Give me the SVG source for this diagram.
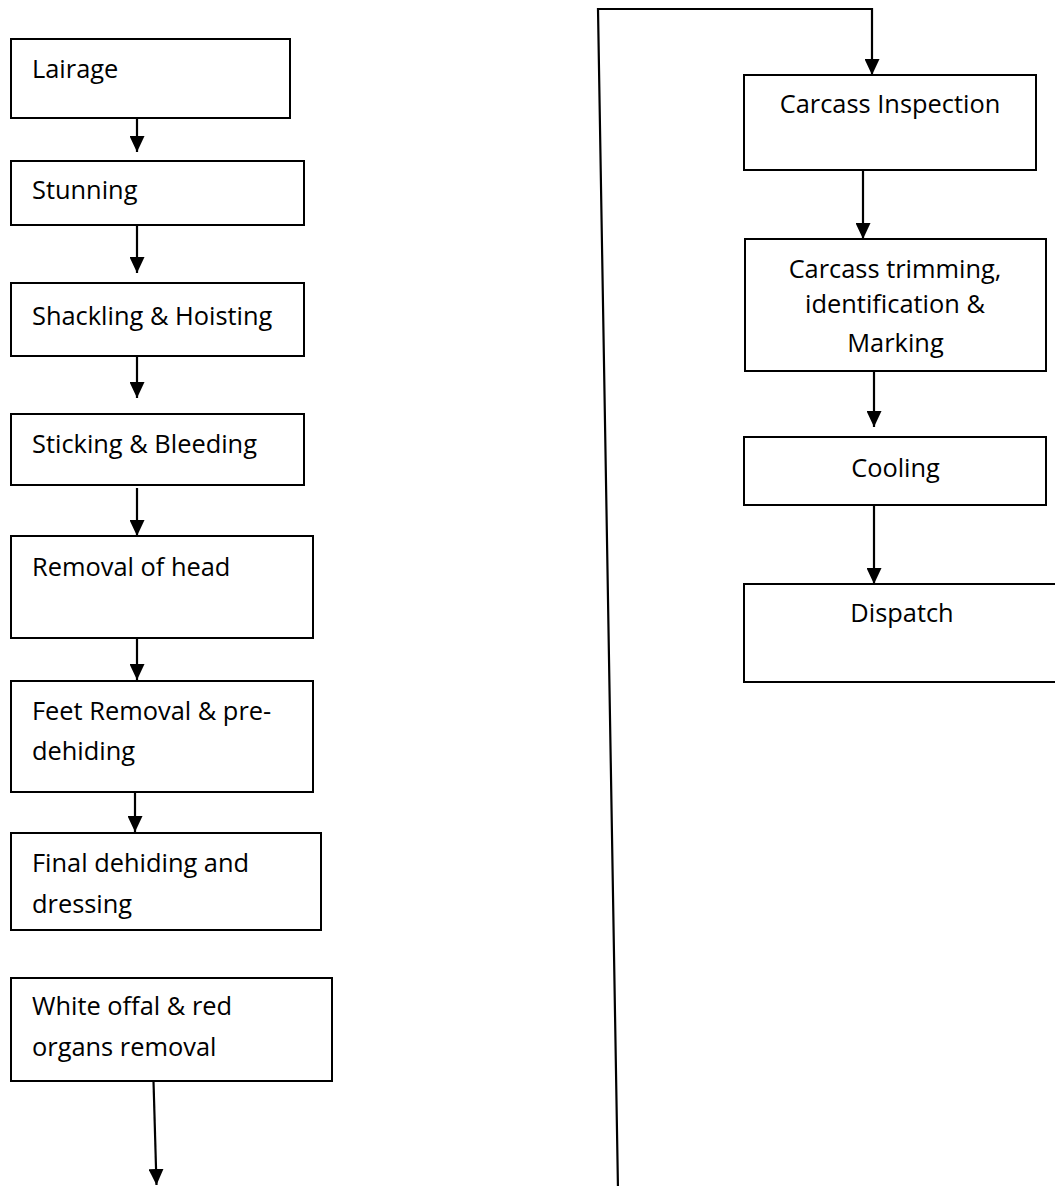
<svg xmlns="http://www.w3.org/2000/svg" width="1055" height="1186" viewBox="0 0 1055 1186">
<style>
.box{fill:#fff;stroke:#000;stroke-width:2}
.t{font-family:"Open Sans","Liberation Sans",sans-serif;font-size:25.4px;fill:#000}
.c{text-anchor:middle}
.ln{fill:none;stroke:#000;stroke-width:2.2}
</style>
<defs>
<marker id="ah" viewBox="0 0 16 15" refX="16" refY="7.5" markerWidth="16" markerHeight="15" markerUnits="userSpaceOnUse" orient="auto">
<path d="M0,0 L16,7.5 L0,15 z" fill="#000"/>
</marker>
</defs>
<rect width="1055" height="1186" fill="#fff"/>
<g id="connectors">
<line class="ln" x1="137" y1="118" x2="137" y2="152" marker-end="url(#ah)"/>
<line class="ln" x1="137" y1="225" x2="137" y2="273" marker-end="url(#ah)"/>
<line class="ln" x1="137" y1="356" x2="137" y2="398" marker-end="url(#ah)"/>
<line class="ln" x1="137" y1="488" x2="137" y2="536" marker-end="url(#ah)"/>
<line class="ln" x1="137" y1="638" x2="137" y2="680" marker-end="url(#ah)"/>
<line class="ln" x1="135" y1="792" x2="135" y2="832" marker-end="url(#ah)"/>
<line class="ln" x1="153.5" y1="1081" x2="156.5" y2="1185" marker-end="url(#ah)"/>
<polyline class="ln" points="618,1190 598,9 872,9 872,75" marker-end="url(#ah)"/>
<line class="ln" x1="863" y1="170" x2="863" y2="239" marker-end="url(#ah)"/>
<line class="ln" x1="874" y1="371" x2="874" y2="427" marker-end="url(#ah)"/>
<line class="ln" x1="874" y1="505" x2="874" y2="584" marker-end="url(#ah)"/>
</g>
<g id="n1"><rect class="box" x="11" y="39" width="279" height="79"/><text class="t" x="32" y="77.5">Lairage</text></g>
<g id="n2"><rect class="box" x="11" y="161" width="293" height="64"/><text class="t" x="32" y="199">Stunning</text></g>
<g id="n3"><rect class="box" x="11" y="283" width="293" height="73"/><text class="t" x="32" y="325">Shackling &amp; Hoisting</text></g>
<g id="n4"><rect class="box" x="11" y="414" width="293" height="71"/><text class="t" x="32" y="453">Sticking &amp; Bleeding</text></g>
<g id="n5"><rect class="box" x="11" y="536" width="302" height="102"/><text class="t" x="32" y="575.5">Removal of head</text></g>
<g id="n6"><rect class="box" x="11" y="681" width="302" height="111"/><text class="t" x="32" y="720">Feet Removal &amp; pre-</text><text class="t" x="32" y="760">dehiding</text></g>
<g id="n7"><rect class="box" x="11" y="833" width="310" height="97"/><text class="t" x="32" y="872">Final dehiding and</text><text class="t" x="32" y="913">dressing</text></g>
<g id="n8"><rect class="box" x="11" y="978" width="321" height="103"/><text class="t" x="32" y="1015">White offal &amp; red</text><text class="t" x="32" y="1055.5">organs removal</text></g>
<g id="n9"><rect class="box" x="744" y="75" width="292" height="95"/><text class="t c" x="890" y="113">Carcass Inspection</text></g>
<g id="n10"><rect class="box" x="745" y="239" width="301" height="132"/><text class="t c" x="895" y="278">Carcass trimming,</text><text class="t c" x="895" y="313">identification &amp;</text><text class="t c" x="895.5" y="351.5">Marking</text></g>
<g id="n11"><rect class="box" x="744" y="437" width="302" height="68"/><text class="t c" x="895.5" y="476.5">Cooling</text></g>
<g id="n12"><rect class="box" x="744" y="584" width="320" height="98"/><text class="t c" x="902" y="621.5">Dispatch</text></g>
</svg>
